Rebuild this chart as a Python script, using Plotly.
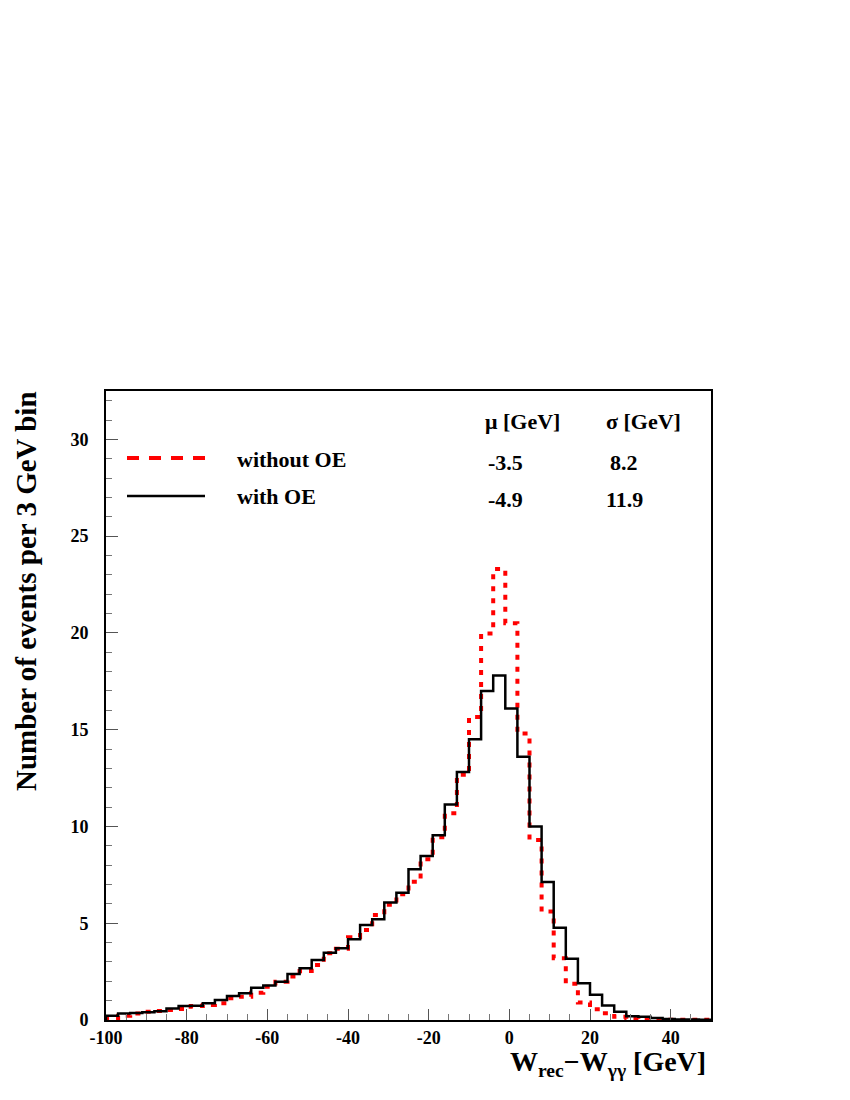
import plotly.graph_objects as go

# ---- data ----
bin_lo = -100
bin_width = 3
n_bins = 50
with_oe = [0.22, 0.34, 0.36, 0.40, 0.45, 0.59, 0.72, 0.74, 0.86, 1.03,
           1.24, 1.38, 1.67, 1.78, 1.98, 2.38, 2.67, 3.10, 3.48, 3.71,
           4.17, 4.91, 5.20, 6.07, 6.58, 7.79, 8.48, 9.55, 11.14, 12.81,
           14.50, 17.0, 17.8, 16.1, 13.6, 10.0, 7.13, 4.77, 3.16, 1.90,
           1.30, 0.75, 0.43, 0.20, 0.17, 0.10, 0.05, 0.03, 0.02, 0.01]
without_oe = [0.10, 0.22, 0.34, 0.43, 0.47, 0.52, 0.57, 0.72, 0.78, 0.86,
              1.12, 1.20, 1.41, 1.72, 1.98, 2.25, 2.53, 2.84, 3.45, 3.68,
              4.27, 4.65, 5.43, 5.95, 6.50, 7.14, 8.30, 9.44, 10.68, 12.67,
              15.65, 19.97, 23.3, 20.5, 14.8, 9.3, 5.6, 3.19, 1.87, 0.90,
              0.55, 0.35, 0.17, 0.07, 0.03, 0.02, 0.01, 0.01, 0.01, 0.01]
x_tickvals = [-100, -80, -60, -40, -20, 0, 20, 40]
x_ticktext = ["-100", "-80", "-60", "-40", "-20", "0", "20", "40"]
y_tickvals = [0, 5, 10, 15, 20, 25, 30]
y_ticktext = ["0", "5", "10", "15", "20", "25", "30"]
legend_labels = ["without OE", "with OE"]
mu_vals = ["-3.5", "-4.9"]
sigma_vals = ["8.2", "11.9"]

edges = [bin_lo + bin_width * k for k in range(n_bins + 1)]

def steps(vals):
    xs = [edges[0]] + edges
    ys = [0] + list(vals) + [vals[-1]]
    return xs, ys

FONT = "Liberation Serif, Times New Roman, Times, Nimbus Roman, DejaVu Serif, serif"
fig = go.Figure()
xr, yr = steps(without_oe)
fig.add_trace(go.Scatter(x=xr, y=yr, mode="lines", line_shape="hv",
                         line=dict(color="#ff0000", width=4, dash="5px,7px"),
                         showlegend=False, hoverinfo="skip"))
xb, yb = steps(with_oe)
fig.add_trace(go.Scatter(x=xb, y=yb, mode="lines", line_shape="hv",
                         line=dict(color="black", width=2.5),
                         showlegend=False, hoverinfo="skip"))

OFF = 8  # page body margin
W, H = 842, 1092
# page-coordinate frame of the plot area
PL, PR, PT, PB = 106, 711, 391, 1020
L, T = PL - OFF, PT - OFF
R, B = W - (PR - OFF), H - (PB - OFF)
PW, PH = PR - PL, PB - PT

def px(xp):
    return (xp - PL) / PW

def py(yp):
    return (PB - yp) / PH

tf = dict(family=FONT, size=18, color="black", weight="bold")
fig.update_layout(
    width=W, height=H,
    margin=dict(l=L, r=R, t=T, b=B, pad=0),
    plot_bgcolor="white", paper_bgcolor="white",
    xaxis=dict(range=[-100, 50], showgrid=False, zeroline=False,
               showline=True, linecolor="black", linewidth=2, mirror=True,
               ticks="inside", ticklen=11, tickwidth=1, tickcolor="#555",
               tickvals=x_tickvals, ticktext=x_ticktext, tickfont=tf,
               minor=dict(dtick=5, tick0=0, ticks="inside", ticklen=6,
                          tickwidth=1, tickcolor="#777", showgrid=False)),
    yaxis=dict(range=[0, 32.5], showgrid=False, zeroline=False,
               showline=True, linecolor="black", linewidth=2, mirror=True,
               ticks="inside", ticklen=12, tickwidth=1, tickcolor="#555",
               tickvals=y_tickvals, ticktext=y_ticktext, tickfont=tf,
               ticklabelstandoff=12,
               minor=dict(dtick=1, tick0=0, ticks="inside", ticklen=6,
                          tickwidth=1, tickcolor="#777", showgrid=False)),
)

af = dict(family=FONT, size=22, color="black", weight="bold")
ann = []
# axis titles
ann.append(dict(text="Number of events per 3 GeV bin", textangle=-90,
                xref="paper", yref="paper", x=px(26), y=py(389),
                xanchor="center", yanchor="top", showarrow=False,
                font=dict(family=FONT, size=29, color="black", weight="bold")))
ann.append(dict(text="W<sub>rec</sub>−W<sub>γγ</sub> [GeV]",
                xref="paper", yref="paper", x=px(708), y=py(1063),
                xanchor="right", yanchor="middle", showarrow=False,
                font=dict(family=FONT, size=28, color="black", weight="bold")))
# header
ann.append(dict(text="μ [GeV]", xref="paper", yref="paper", x=px(522), y=py(421),
                xanchor="center", yanchor="middle", showarrow=False, font=af))
ann.append(dict(text="σ [GeV]", xref="paper", yref="paper", x=px(643), y=py(421),
                xanchor="center", yanchor="middle", showarrow=False, font=af))
row_y = [459, 496]
for i in range(2):
    ann.append(dict(text=legend_labels[i], xref="paper", yref="paper",
                    x=px(235), y=py(row_y[i]), xanchor="left", yanchor="middle",
                    showarrow=False, font=af))
    ann.append(dict(text=mu_vals[i], xref="paper", yref="paper",
                    x=px(505), y=py(row_y[i] + 3), xanchor="center", yanchor="middle",
                    showarrow=False, font=af))
    ann.append(dict(text=sigma_vals[i], xref="paper", yref="paper",
                    x=px(624), y=py(row_y[i] + 3), xanchor="center", yanchor="middle",
                    showarrow=False, font=af))
fig.update_layout(annotations=ann)

shapes = [
    dict(type="line", xref="paper", yref="paper", x0=px(127), x1=px(205),
         y0=py(458), y1=py(458), line=dict(color="#ff0000", width=4, dash="12px,10px")),
    dict(type="line", xref="paper", yref="paper", x0=px(127), x1=px(205),
         y0=py(496), y1=py(496), line=dict(color="black", width=2.5)),
]
fig.update_layout(shapes=shapes)

fig.write_html("out.html")
